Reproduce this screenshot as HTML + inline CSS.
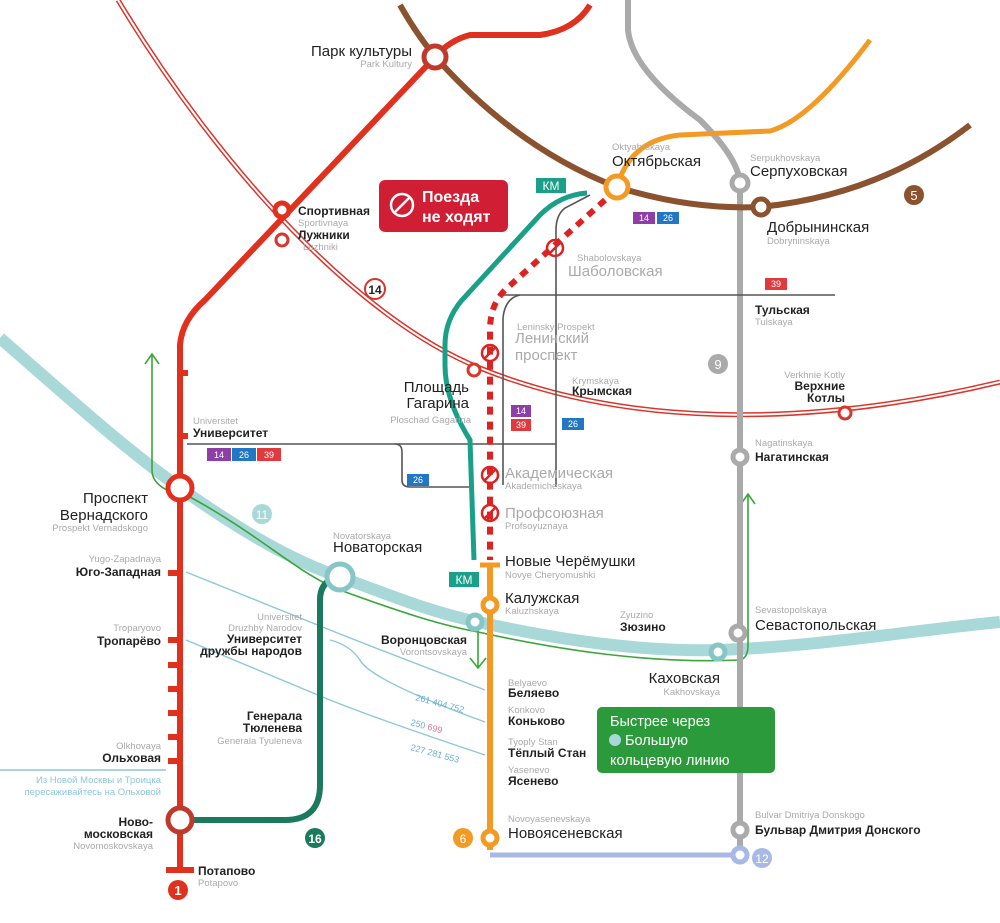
<!DOCTYPE html>
<html><head><meta charset="utf-8"><style>
body{margin:0;background:#fff}
svg{display:block}
text{font-family:"Liberation Sans","DejaVu Sans",sans-serif}
.b{font-size:15px;fill:#222}
.m{font-size:12px;fill:#222;font-weight:bold}
.e{font-size:9.5px;fill:#aaa}
.g{font-size:15px;fill:#aaa}
</style></head><body>
<svg width="1000" height="923" viewBox="0 0 1000 923">
<path d="M118 0 C 220 170, 360 320, 480 368 C 620 425, 800 430, 1000 382" fill="none" stroke="#d9352b" stroke-width="5"/>
<path d="M118 0 C 220 170, 360 320, 480 368 C 620 425, 800 430, 1000 382" fill="none" stroke="#fff" stroke-width="2"/>
<path d="M0 338 C 60 390, 120 445, 180 488 C 240 530, 290 560, 340 577 C 390 595, 430 612, 478 622 C 560 640, 640 652, 720 650 C 820 646, 900 632, 1000 622" fill="none" stroke="#a9d8d8" stroke-width="12"/>
<path d="M152 355 L152 470 Q152 490 190 497 C 260 535, 300 575, 340 590 C 400 612, 440 625, 478 632 C 560 650, 650 664, 740 660 Q748 658 748 645 L748 495" fill="none" stroke="#3aa63a" stroke-width="1.6"/>
<path d="M145 364 L152 354 L159 364 M741 504 L748 494 L755 504" fill="none" stroke="#3aa63a" stroke-width="1.6"/>
<path d="M478 628 L478 668 M470 658 L478 668 L486 658" fill="none" stroke="#3aa63a" stroke-width="1.6"/>
<path d="M628 0 L628 30 Q632 70 700 120 Q740 160 740 185 L740 850" fill="none" stroke="#aaa" stroke-width="6"/>
<path d="M617 187 Q630 140 680 135 L770 131 Q810 120 870 40" fill="none" stroke="#f39a25" stroke-width="5"/>
<path d="M400 5 Q420 40 440 62 Q520 150 617 187 Q690 210 760 207 Q880 195 970 125" fill="none" stroke="#8b5230" stroke-width="6"/>
<path d="M590 5 Q575 30 540 35 L470 35 Q450 40 435 57 L205 300 Q182 320 180 345 L180 870" fill="none" stroke="#e0301e" stroke-width="6"/>
<path d="M166 870 L194 870" stroke="#e0301e" stroke-width="6"/>
<g fill="#e0301e"><rect x="180" y="370" width="8" height="6"/><rect x="180" y="433" width="8" height="6"/><rect x="168" y="570" width="12" height="6"/><rect x="168" y="637" width="12" height="6"/><rect x="168" y="662" width="12" height="6"/><rect x="168" y="686" width="12" height="6"/><rect x="168" y="710" width="12" height="6"/><rect x="168" y="734" width="12" height="6"/><rect x="168" y="758" width="12" height="6"/></g>
<g fill="none" stroke="#555" stroke-width="1.6">
<path d="M187 444 L395 444 Q402 444 402 452 L402 480 Q402 487 410 487 L470 487"/>
<path d="M500 295 L835 295"/>
<path d="M556 444 L556 230 Q556 215 565 208 L590 195 M556 444 L556 487"/>
<path d="M503 318 Q505 298 520 295 M503 318 L503 485"/>
<path d="M395 444 L556 444"/>
</g>
<g fill="none" stroke="#8cc6de" stroke-width="1.4">
<path d="M186 572 L330 630 Q380 650 485 690"/>
<path d="M186 640 L330 700 Q380 720 485 755"/>
<path d="M330 640 Q350 645 360 660 Q370 680 485 722"/>
<path d="M0 770 L166 770"/>
</g>
<path d="M490 855 L740 855" stroke="#a9b9e6" stroke-width="5"/>
<path d="M490 565 L490 850" stroke="#f39a25" stroke-width="6"/>
<path d="M480 565 L500 565" stroke="#f39a25" stroke-width="5"/>
<path d="M180 820 L285 820 Q320 820 320 785 L320 600 Q320 580 340 577" fill="none" stroke="#1b7a5e" stroke-width="6"/>
<path d="M587 193 Q560 195 540 215 L462 300 Q445 320 445 345 L445 365 Q445 400 470 440 L474 560" fill="none" stroke="#1aa088" stroke-width="5"/>
<path d="M605 200 L505 290 Q490 305 490 330 L490 560" fill="none" stroke="#d22" stroke-width="6" stroke-dasharray="8 7"/>
<g fill="#fff" stroke-width="5">
<circle cx="435" cy="57" r="11" stroke="#c0392b"/>
<circle cx="617" cy="187" r="11" stroke="#f39a25"/>
<circle cx="740" cy="183" r="8" stroke="#aaa"/>
<circle cx="761" cy="207" r="8" stroke="#8b5230"/>
<circle cx="282" cy="210" r="7" stroke="#e0301e"/>
<circle cx="282" cy="240" r="6" stroke="#d9352b" stroke-width="3"/>
<circle cx="474" cy="370" r="6" stroke="#d9352b" stroke-width="3"/>
<circle cx="845" cy="413" r="6" stroke="#d9352b" stroke-width="3"/>
<circle cx="180" cy="488" r="12" stroke="#e0301e"/>
<circle cx="180" cy="820" r="12" stroke="#c0392b"/>
<circle cx="340" cy="577" r="13" stroke="#86c6c6"/>
<circle cx="490" cy="605" r="7" stroke="#f39a25"/>
<circle cx="490" cy="838" r="7" stroke="#f39a25"/>
<circle cx="740" cy="457" r="7" stroke="#aaa"/>
<circle cx="738" cy="633" r="7" stroke="#aaa"/>
<circle cx="740" cy="830" r="7" stroke="#aaa"/>
<circle cx="740" cy="855" r="7" stroke="#a9b9e6"/>
<circle cx="475" cy="622" r="7" stroke="#86c6c6"/>
<circle cx="718" cy="652" r="7" stroke="#86c6c6"/>
</g>
<g fill="none" stroke="#d22" stroke-width="2.5">
<circle cx="555" cy="248" r="8"/><path d="M549 254 L561 242"/>
<circle cx="490" cy="353" r="8"/><path d="M484 359 L496 347"/>
<circle cx="490" cy="475" r="8"/><path d="M484 481 L496 469"/>
<circle cx="490" cy="513" r="8"/><path d="M484 519 L496 507"/>
</g>
<circle cx="178" cy="890" r="10" fill="#e0301e"/><text x="178" y="895" font-size="13" fill="#fff" text-anchor="middle" font-weight="bold">1</text>
<circle cx="914" cy="195" r="10" fill="#8b5230"/><text x="914" y="200" font-size="13" fill="#fff" text-anchor="middle">5</text>
<circle cx="718" cy="364" r="10" fill="#aaa"/><text x="718" y="369" font-size="13" fill="#fff" text-anchor="middle">9</text>
<circle cx="262" cy="514" r="10" fill="#a9d8d8"/><text x="262" y="519" font-size="12" fill="#fff" text-anchor="middle">11</text>
<circle cx="762" cy="858" r="10" fill="#a9b9e6"/><text x="762" y="863" font-size="12" fill="#fff" text-anchor="middle">12</text>
<circle cx="315" cy="838" r="10" fill="#1b7a5e"/><text x="315" y="843" font-size="12" fill="#fff" text-anchor="middle" font-weight="bold">16</text>
<circle cx="463" cy="838" r="10" fill="#f39a25"/><text x="463" y="843" font-size="12" fill="#fff" text-anchor="middle">6</text>
<circle cx="375" cy="289" r="10" fill="#fff" stroke="#d9352b" stroke-width="2"/><text x="375" y="294" font-size="12" fill="#222" text-anchor="middle" font-weight="bold">14</text>
<rect x="379" y="180" width="129" height="52" rx="6" fill="#d01f35"/>
<circle cx="402" cy="205" r="11" fill="none" stroke="#fff" stroke-width="2.5"/><path d="M395 212 L409 198" stroke="#fff" stroke-width="2.5"/>
<text x="422" y="202" font-size="16" fill="#fff" font-weight="bold">Поезда</text>
<text x="422" y="222" font-size="16" fill="#fff" font-weight="bold">не ходят</text>
<rect x="597" y="707" width="178" height="66" rx="5" fill="#2a9a3a"/>
<text x="610" y="726" font-size="14.5" fill="#fff">Быстрее через</text>
<circle cx="615" cy="740" r="6" fill="#a9d8d8"/><text x="625" y="745" font-size="14.5" fill="#fff">Большую</text>
<text x="610" y="765" font-size="14.5" fill="#fff">кольцевую линию</text>
<g font-size="9" fill="#fff" text-anchor="middle">
<rect x="207" y="448" width="24" height="13" fill="#8e3fa5"/><text x="219" y="458">14</text>
<rect x="232" y="448" width="24" height="13" fill="#2277c4"/><text x="244" y="458">26</text>
<rect x="257" y="448" width="24" height="13" fill="#e03a3e"/><text x="269" y="458">39</text>
<rect x="633" y="212" width="22" height="12" fill="#8e3fa5"/><text x="644" y="221">14</text>
<rect x="657" y="212" width="22" height="12" fill="#2277c4"/><text x="668" y="221">26</text>
<rect x="765" y="278" width="22" height="12" fill="#e03a3e"/><text x="776" y="287">39</text>
<rect x="511" y="405" width="20" height="12" fill="#8e3fa5"/><text x="521" y="414">14</text>
<rect x="511" y="419" width="20" height="12" fill="#e03a3e"/><text x="521" y="428">39</text>
<rect x="562" y="418" width="22" height="12" fill="#2277c4"/><text x="573" y="427">26</text>
<rect x="407" y="474" width="22" height="12" fill="#2277c4"/><text x="418" y="483">26</text>
<rect x="536" y="178" width="30" height="15" fill="#1aa088"/><text x="551" y="190" font-size="12">КМ</text>
<rect x="449" y="572" width="30" height="15" fill="#1aa088"/><text x="464" y="584" font-size="12">КМ</text>
</g>
<text x="412" y="56" class="b" text-anchor="end">Парк культуры</text><text x="412" y="67" class="e" text-anchor="end">Park Kultury</text>
<text x="612" y="166" class="b">Октябрьская</text><text x="612" y="150" class="e">Oktyabrskaya</text>
<text x="750" y="176" class="b">Серпуховская</text><text x="750" y="161" class="e">Serpukhovskaya</text>
<text x="767" y="232" class="b">Добрынинская</text><text x="767" y="244" class="e">Dobryninskaya</text>
<text x="298" y="215" class="m">Спортивная</text><text x="298" y="226" class="e">Sportivnaya</text>
<text x="298" y="239" class="m">Лужники</text><text x="303" y="250" class="e">Luzhniki</text>
<text x="568" y="276" class="g">Шаболовская</text><text x="577" y="261" class="e">Shabolovskaya</text>
<text x="517" y="330" class="e">Leninsky Prospekt</text>
<text x="515" y="343" class="g">Ленинский</text><text x="515" y="360" class="g">проспект</text>
<text x="572" y="384" class="e">Krymskaya</text><text x="572" y="395" class="m">Крымская</text>
<text x="755" y="314" class="m">Тульская</text><text x="755" y="325" class="e">Tulskaya</text>
<text x="845" y="378" class="e" text-anchor="end">Verkhnie Kotly</text>
<text x="845" y="390" class="m" text-anchor="end">Верхние</text><text x="845" y="402" class="m" text-anchor="end">Котлы</text>
<text x="469" y="392" class="b" text-anchor="end">Площадь</text><text x="469" y="408" class="b" text-anchor="end">Гагарина</text>
<text x="471" y="423" class="e" text-anchor="end">Ploschad Gagarina</text>
<text x="193" y="424" class="e">Universitet</text><text x="193" y="437" class="m">Университет</text>
<text x="148" y="503" class="b" text-anchor="end">Проспект</text><text x="148" y="520" class="b" text-anchor="end">Вернадского</text>
<text x="148" y="531" class="e" text-anchor="end">Prospekt Vernadskogo</text>
<text x="505" y="478" class="g">Академическая</text><text x="505" y="489" class="e">Akademicheskaya</text>
<text x="505" y="518" class="g">Профсоюзная</text><text x="505" y="529" class="e">Profsoyuznaya</text>
<text x="505" y="566" class="b">Новые Черёмушки</text><text x="505" y="578" class="e">Novye Cheryomushki</text>
<text x="505" y="603" class="b">Калужская</text><text x="505" y="614" class="e">Kaluzhskaya</text>
<text x="333" y="552" class="b">Новаторская</text><text x="333" y="539" class="e">Novatorskaya</text>
<text x="161" y="562" class="e" text-anchor="end">Yugo-Zapadnaya</text><text x="161" y="576" class="m" text-anchor="end">Юго-Западная</text>
<text x="161" y="631" class="e" text-anchor="end">Troparyovo</text><text x="161" y="645" class="m" text-anchor="end">Тропарёво</text>
<text x="302" y="620" class="e" text-anchor="end">Universitet</text><text x="302" y="631" class="e" text-anchor="end">Druzhby Narodov</text>
<text x="302" y="643" class="m" text-anchor="end">Университет</text><text x="302" y="655" class="m" text-anchor="end">дружбы народов</text>
<text x="302" y="720" class="m" text-anchor="end">Генерала</text><text x="302" y="732" class="m" text-anchor="end">Тюленева</text>
<text x="302" y="744" class="e" text-anchor="end">Generala Tyuleneva</text>
<text x="161" y="749" class="e" text-anchor="end">Olkhovaya</text><text x="161" y="762" class="m" text-anchor="end">Ольховая</text>
<text x="161" y="783" class="e" text-anchor="end" style="fill:#8cc6de">Из Новой Москвы и Троицка</text>
<text x="161" y="795" class="e" text-anchor="end" style="fill:#8cc6de">пересаживайтесь на Ольховой</text>
<text x="153" y="826" class="m" text-anchor="end">Ново-</text><text x="153" y="838" class="m" text-anchor="end">московская</text>
<text x="153" y="849" class="e" text-anchor="end">Novomoskovskaya</text>
<text x="198" y="875" class="m">Потапово</text><text x="198" y="886" class="e">Potapovo</text>
<text x="467" y="644" class="m" text-anchor="end">Воронцовская</text><text x="467" y="655" class="e" text-anchor="end">Vorontsovskaya</text>
<text x="508" y="686" class="e">Belyaevo</text><text x="508" y="697" class="m">Беляево</text>
<text x="508" y="713" class="e">Konkovo</text><text x="508" y="725" class="m">Коньково</text>
<text x="508" y="745" class="e">Tyoply Stan</text><text x="508" y="757" class="m">Тёплый Стан</text>
<text x="508" y="773" class="e">Yasenevo</text><text x="508" y="785" class="m">Ясенево</text>
<text x="508" y="822" class="e">Novoyasenevskaya</text><text x="508" y="838" class="b">Новоясеневская</text>
<text x="620" y="618" class="e">Zyuzino</text><text x="620" y="631" class="m">Зюзино</text>
<text x="755" y="613" class="e">Sevastopolskaya</text><text x="755" y="630" class="b">Севастопольская</text>
<text x="720" y="683" class="b" text-anchor="end">Каховская</text><text x="720" y="695" class="e" text-anchor="end">Kakhovskaya</text>
<text x="755" y="446" class="e">Nagatinskaya</text><text x="755" y="461" class="m">Нагатинская</text>
<text x="755" y="818" class="e">Bulvar Dmitriya Donskogo</text><text x="755" y="834" class="m">Бульвар Дмитрия Донского</text>
<g font-size="9" fill="#6aaed0"><text x="415" y="700" transform="rotate(15 415 700)">261 404 752</text>
<text x="410" y="725" transform="rotate(15 410 725)">250 <tspan fill="#d79">699</tspan></text>
<text x="410" y="750" transform="rotate(15 410 750)">227 281 553</text></g>
</svg>
</body></html>
